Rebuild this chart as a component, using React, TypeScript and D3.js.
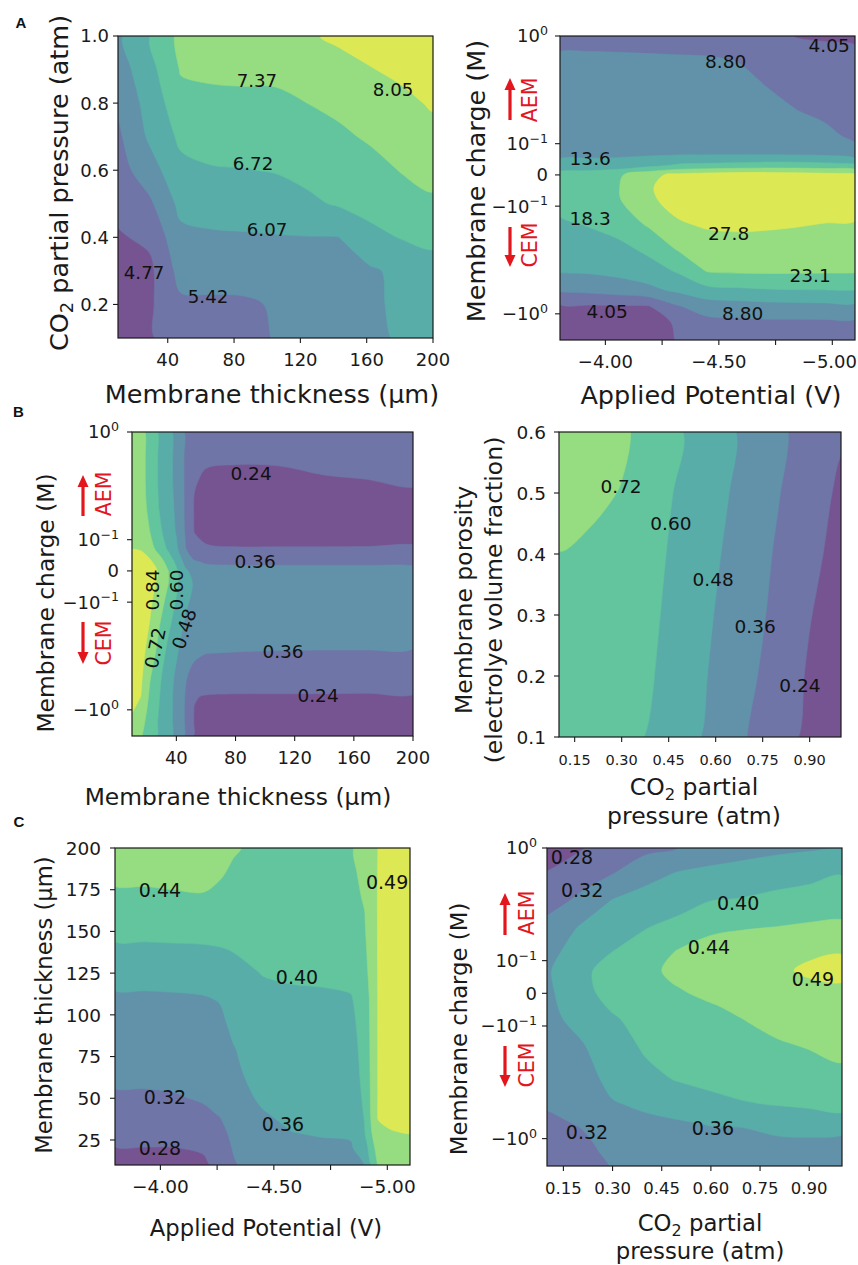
import React from 'react';
import * as d3 from 'd3';

// ===================== DATA =====================
// ---- Panel A (left): CO2 partial pressure vs membrane thickness ----
const aThickness = [10, 29, 48, 67, 86, 105, 124, 143, 162, 181, 200];
const aPressure = [1.0, 0.9, 0.8, 0.7, 0.6, 0.5, 0.4, 0.3, 0.2, 0.1];
// one row per pressure (top→bottom), one value per thickness
const aLeftRows = [
  [5.95, 6.70, 7.55, 7.65, 7.70, 7.80, 7.98, 8.15, 8.30, 8.45, 8.60],
  [5.75, 6.50, 7.42, 7.50, 7.52, 7.50, 7.65, 7.85, 8.02, 8.18, 8.35],
  [5.55, 6.30, 7.15, 7.20, 7.22, 7.25, 7.37, 7.52, 7.70, 7.90, 8.12],
  [5.30, 6.17, 6.85, 6.95, 6.98, 7.00, 7.10, 7.25, 7.45, 7.62, 7.85],
  [5.15, 5.78, 6.55, 6.68, 6.70, 6.75, 6.88, 6.98, 7.15, 7.40, 7.60],
  [4.95, 5.30, 6.25, 6.35, 6.40, 6.45, 6.60, 6.78, 6.92, 7.10, 7.25],
  [4.70, 4.90, 5.90, 5.98, 6.00, 6.03, 6.05, 6.06, 6.55, 6.75, 6.82],
  [4.55, 4.62, 5.65, 5.70, 5.72, 5.78, 5.85, 5.90, 5.98, 6.22, 6.55],
  [4.45, 4.68, 5.30, 5.30, 5.32, 5.48, 5.75, 5.85, 5.95, 6.20, 6.35],
  [4.40, 4.70, 5.15, 5.20, 5.25, 5.45, 5.72, 5.82, 5.92, 6.15, 6.30],
];
const aLeftLevels = [4.77, 5.42, 6.07, 6.72, 7.37, 8.05];
const aLeftLabels = [
  { x: 93.8, y: 0.868, t: '7.37' }, { x: 175.9, y: 0.841, t: '8.05' },
  { x: 91.4, y: 0.62, t: '6.72' }, { x: 99.9, y: 0.423, t: '6.07' },
  { x: 25.7, y: 0.294, t: '4.77' }, { x: 64.3, y: 0.225, t: '5.42' },
];

// ---- Panel A (right): membrane charge vs applied potential ----
const aPotential = [-3.8, -3.93, -4.06, -4.19, -4.32, -4.45, -4.58, -4.71, -4.84, -4.97, -5.1];
const aCharge = [1.0, 0.6, 0.35, 0.2, 0.12, 0.07, 0.03, 0, -0.04, -0.08, -0.15, -0.25, -0.4, -0.6, -0.85, -1.2, -1.75];
// one column per potential, values listed top→bottom (charge)
const aRightCols = [
  [7.5, 9.5, 10.5, 11.2, 12.0, 12.6, 15.0, 20.5, 21.0, 20.0, 17.5, 16.0, 14.0, 9.5, 3.5, 2.5, 2.0],
  [7.5, 9.5, 10.5, 11.2, 12.0, 12.6, 15.0, 21.0, 22.0, 21.0, 18.5, 16.5, 14.2, 10.0, 3.6, 2.5, 2.0],
  [7.5, 9.4, 10.4, 11.1, 11.9, 12.5, 15.5, 22.5, 23.0, 22.8, 20.5, 16.8, 15.0, 11.0, 3.7, 2.5, 2.0],
  [7.4, 9.3, 10.3, 11.0, 11.8, 12.5, 17.0, 26.5, 27.3, 27.0, 23.5, 19.5, 16.0, 12.5, 3.8, 2.3, 2.0],
  [7.3, 9.2, 10.2, 11.0, 11.8, 12.6, 19.0, 29.0, 30.0, 29.5, 27.2, 23.5, 18.8, 14.5, 8.5, 4.6, 4.3],
  [7.2, 9.1, 10.1, 10.9, 11.7, 12.6, 19.5, 30.0, 31.0, 30.5, 28.3, 25.5, 23.4, 17.0, 11.0, 7.5, 6.5],
  [6.8, 8.7, 10.0, 10.8, 11.6, 12.6, 20.0, 30.5, 31.5, 31.0, 28.5, 26.0, 23.8, 17.5, 11.5, 7.8, 6.8],
  [5.8, 7.5, 8.7, 10.0, 11.3, 12.5, 20.5, 30.5, 31.5, 31.0, 28.3, 26.0, 23.9, 18.0, 12.0, 8.0, 7.0],
  [3.9, 6.0, 7.5, 8.9, 10.5, 12.3, 20.5, 30.0, 31.0, 30.5, 28.0, 25.8, 23.8, 18.2, 12.2, 8.0, 7.0],
  [3.6, 5.5, 6.8, 8.0, 9.6, 12.0, 20.0, 29.5, 30.5, 30.0, 27.6, 25.6, 23.7, 18.3, 12.4, 8.0, 7.0],
  [3.4, 5.2, 6.3, 7.4, 8.0, 10.0, 19.5, 29.0, 30.0, 29.5, 27.5, 25.5, 23.6, 18.4, 12.5, 8.0, 7.0],
];
const aRightLevels = [4.05, 8.80, 13.6, 18.3, 23.1, 27.8];
const aRightLabels = [
  { x: -4.986, y: 0.826, t: '4.05' }, { x: -4.53, y: 0.587, t: '8.80' },
  { x: -3.933, y: 0.0547, t: '13.6' }, { x: -3.933, y: -0.129, t: '18.3' },
  { x: -4.543, y: -0.178, t: '27.8' }, { x: -4.902, y: -0.436, t: '23.1' },
  { x: -4.008, y: -0.938, t: '4.05' }, { x: -4.605, y: -0.98, t: '8.80' },
];

// ---- Panel B (left): membrane charge vs membrane thickness ----
const bThickness = [10, 16, 22, 28, 34, 40, 46, 52, 60, 80, 110, 140, 170, 200];
const bCharge = [1.0, 0.6, 0.35, 0.2, 0.12, 0.07, 0.03, 0, -0.04, -0.08, -0.15, -0.3, -0.5, -0.75, -1.0, -1.3, -1.75];
const bLeftCols = [
  [0.80, 0.80, 0.80, 0.81, 0.82, 0.84, 0.92, 0.95, 0.95, 0.94, 0.93, 0.92, 0.90, 0.88, 0.85, 0.80, 0.76],
  [0.76, 0.76, 0.76, 0.77, 0.79, 0.83, 0.90, 0.93, 0.93, 0.92, 0.90, 0.88, 0.86, 0.84, 0.80, 0.76, 0.73],
  [0.68, 0.68, 0.68, 0.69, 0.72, 0.77, 0.86, 0.90, 0.89, 0.87, 0.84, 0.79, 0.73, 0.70, 0.68, 0.67, 0.66],
  [0.59, 0.59, 0.59, 0.60, 0.63, 0.68, 0.78, 0.83, 0.82, 0.79, 0.74, 0.68, 0.63, 0.61, 0.60, 0.59, 0.59],
  [0.52, 0.52, 0.52, 0.53, 0.55, 0.59, 0.68, 0.73, 0.73, 0.70, 0.64, 0.57, 0.53, 0.52, 0.52, 0.52, 0.52],
  [0.45, 0.45, 0.45, 0.46, 0.47, 0.50, 0.57, 0.62, 0.62, 0.60, 0.55, 0.49, 0.46, 0.45, 0.45, 0.45, 0.45],
  [0.35, 0.345, 0.345, 0.345, 0.35, 0.37, 0.44, 0.50, 0.52, 0.51, 0.47, 0.42, 0.37, 0.355, 0.35, 0.35, 0.35],
  [0.33, 0.27, 0.245, 0.235, 0.238, 0.27, 0.37, 0.44, 0.47, 0.46, 0.43, 0.38, 0.32, 0.245, 0.238, 0.235, 0.235],
  [0.31, 0.25, 0.23, 0.21, 0.215, 0.25, 0.345, 0.40, 0.42, 0.42, 0.41, 0.36, 0.30, 0.235, 0.22, 0.215, 0.21],
  [0.30, 0.248, 0.225, 0.20, 0.205, 0.245, 0.34, 0.39, 0.41, 0.41, 0.40, 0.358, 0.29, 0.232, 0.215, 0.21, 0.205],
  [0.30, 0.25, 0.225, 0.20, 0.205, 0.245, 0.34, 0.39, 0.41, 0.41, 0.40, 0.356, 0.29, 0.232, 0.215, 0.21, 0.205],
  [0.30, 0.265, 0.232, 0.20, 0.205, 0.245, 0.34, 0.39, 0.41, 0.41, 0.40, 0.355, 0.29, 0.232, 0.215, 0.21, 0.205],
  [0.30, 0.27, 0.238, 0.205, 0.21, 0.245, 0.34, 0.39, 0.41, 0.41, 0.40, 0.355, 0.29, 0.23, 0.215, 0.21, 0.205],
  [0.30, 0.28, 0.25, 0.21, 0.225, 0.245, 0.34, 0.385, 0.40, 0.40, 0.39, 0.355, 0.29, 0.235, 0.22, 0.215, 0.21],
];
const bLeftLevels = [0.24, 0.36, 0.48, 0.60, 0.72, 0.84];
const bLeftLabels = [
  { x: 90.5, y: 0.417, t: '0.24' }, { x: 93.2, y: 0.032, t: '0.36' },
  { x: 23.5, y: -0.061, t: '0.84', r: -90 }, { x: 39.7, y: -0.061, t: '0.60', r: -90 },
  { x: 45.2, y: -0.177, t: '0.48', r: -72 }, { x: 25.6, y: -0.266, t: '0.72', r: -78 },
  { x: 112.1, y: -0.284, t: '0.36' }, { x: 135.8, y: -0.726, t: '0.24' },
];

// ---- Panel B (right): membrane porosity vs CO2 partial pressure ----
const bPressure = [0.1, 0.2, 0.3, 0.4, 0.5, 0.6, 0.7, 0.8, 0.9, 1.0];
const bPorosity = [0.6, 0.5, 0.4, 0.3, 0.2, 0.1];
const bRightRows = [
  [0.78, 0.765, 0.74, 0.67, 0.597, 0.527, 0.455, 0.383, 0.31, 0.252],
  [0.76, 0.745, 0.715, 0.635, 0.58, 0.51, 0.44, 0.365, 0.29, 0.22],
  [0.718, 0.70, 0.67, 0.625, 0.565, 0.492, 0.42, 0.345, 0.27, 0.20],
  [0.69, 0.675, 0.65, 0.615, 0.55, 0.475, 0.405, 0.33, 0.245, 0.18],
  [0.675, 0.66, 0.635, 0.603, 0.535, 0.46, 0.385, 0.31, 0.225, 0.16],
  [0.665, 0.65, 0.625, 0.59, 0.52, 0.445, 0.36, 0.295, 0.21, 0.15],
];
const bRightLevels = [0.24, 0.36, 0.48, 0.60, 0.72, 0.84];
const bRightLabels = [
  { x: 0.298, y: 0.511, t: '0.72' }, { x: 0.457, y: 0.451, t: '0.60' },
  { x: 0.592, y: 0.359, t: '0.48' }, { x: 0.726, y: 0.282, t: '0.36' },
  { x: 0.869, y: 0.185, t: '0.24' },
];

// ---- Panel C (left): membrane thickness vs applied potential ----
const cPotential = [-3.8, -3.93, -4.06, -4.19, -4.26, -4.32, -4.45, -4.58, -4.71, -4.84, -4.9, -4.96, -5.02, -5.1];
const cThickness = [200, 185, 170, 155, 140, 125, 110, 95, 80, 65, 50, 40, 30, 20, 10];
const cLeftCols = [
  [0.455, 0.447, 0.434, 0.415, 0.395, 0.372, 0.355, 0.345, 0.337, 0.328, 0.315, 0.305, 0.292, 0.279, 0.27],
  [0.455, 0.447, 0.434, 0.415, 0.395, 0.372, 0.355, 0.345, 0.337, 0.328, 0.315, 0.305, 0.292, 0.279, 0.27],
  [0.457, 0.448, 0.436, 0.416, 0.396, 0.373, 0.356, 0.346, 0.338, 0.33, 0.317, 0.306, 0.292, 0.279, 0.27],
  [0.46, 0.45, 0.437, 0.417, 0.397, 0.375, 0.358, 0.348, 0.34, 0.333, 0.323, 0.314, 0.302, 0.283, 0.275],
  [0.452, 0.443, 0.433, 0.418, 0.399, 0.379, 0.362, 0.352, 0.345, 0.339, 0.331, 0.321, 0.31, 0.296, 0.288],
  [0.443, 0.436, 0.428, 0.418, 0.402, 0.39, 0.378, 0.367, 0.358, 0.352, 0.346, 0.338, 0.328, 0.322, 0.315],
  [0.432, 0.428, 0.423, 0.417, 0.41, 0.401, 0.392, 0.385, 0.38, 0.375, 0.365, 0.357, 0.35, 0.345, 0.342],
  [0.43, 0.427, 0.423, 0.418, 0.412, 0.404, 0.395, 0.39, 0.386, 0.382, 0.375, 0.368, 0.36, 0.355, 0.352],
  [0.432, 0.429, 0.425, 0.42, 0.414, 0.405, 0.396, 0.39, 0.386, 0.382, 0.376, 0.369, 0.362, 0.356, 0.353],
  [0.438, 0.436, 0.433, 0.428, 0.421, 0.41, 0.398, 0.393, 0.389, 0.386, 0.381, 0.375, 0.365, 0.356, 0.352],
  [0.448, 0.445, 0.442, 0.438, 0.432, 0.425, 0.415, 0.412, 0.41, 0.408, 0.405, 0.402, 0.398, 0.38, 0.36],
  [0.486, 0.487, 0.488, 0.488, 0.488, 0.488, 0.488, 0.488, 0.488, 0.488, 0.488, 0.488, 0.478, 0.46, 0.445],
  [0.495, 0.495, 0.495, 0.495, 0.495, 0.495, 0.495, 0.495, 0.495, 0.495, 0.495, 0.495, 0.484, 0.47, 0.46],
  [0.497, 0.497, 0.497, 0.497, 0.497, 0.497, 0.497, 0.497, 0.497, 0.497, 0.497, 0.497, 0.487, 0.472, 0.462],
];
const cLeftLevels = [0.28, 0.32, 0.36, 0.40, 0.44, 0.485];
const cLeftLabels = [
  { x: -3.998, y: 174.8, t: '0.44' }, { x: -4.999, y: 179.6, t: '0.49' },
  { x: -4.602, y: 122.7, t: '0.40' }, { x: -4.02, y: 50.7, t: '0.32' },
  { x: -4.54, y: 34.5, t: '0.36' }, { x: -3.998, y: 20.2, t: '0.28' },
];

// ---- Panel C (right): membrane charge vs CO2 partial pressure ----
const cPressure = [0.1, 0.2, 0.3, 0.4, 0.5, 0.6, 0.7, 0.8, 0.9, 1.0];
const cCharge = [1.0, 0.6, 0.35, 0.2, 0.12, 0.07, 0.03, 0, -0.04, -0.08, -0.15, -0.3, -0.5, -0.75, -1.0, -1.3, -1.75];
const cRightCols = [
  [0.26, 0.282, 0.305, 0.33, 0.345, 0.355, 0.354, 0.352, 0.35, 0.348, 0.343, 0.335, 0.324, 0.31, 0.30, 0.295, 0.29],
  [0.276, 0.305, 0.325, 0.362, 0.38, 0.39, 0.388, 0.385, 0.38, 0.372, 0.355, 0.343, 0.334, 0.322, 0.312, 0.306, 0.30],
  [0.30, 0.318, 0.36, 0.383, 0.40, 0.415, 0.418, 0.415, 0.405, 0.395, 0.383, 0.37, 0.357, 0.345, 0.337, 0.33, 0.322],
  [0.31, 0.345, 0.375, 0.398, 0.415, 0.428, 0.43, 0.428, 0.422, 0.415, 0.405, 0.39, 0.365, 0.352, 0.347, 0.343, 0.34],
  [0.32, 0.362, 0.385, 0.41, 0.443, 0.452, 0.442, 0.436, 0.43, 0.425, 0.415, 0.402, 0.375, 0.355, 0.348, 0.345, 0.343],
  [0.335, 0.37, 0.398, 0.432, 0.455, 0.465, 0.46, 0.448, 0.437, 0.43, 0.422, 0.41, 0.388, 0.361, 0.352, 0.35, 0.348],
  [0.345, 0.375, 0.402, 0.437, 0.46, 0.472, 0.47, 0.46, 0.448, 0.44, 0.428, 0.415, 0.397, 0.362, 0.353, 0.35, 0.348],
  [0.35, 0.385, 0.408, 0.44, 0.465, 0.477, 0.476, 0.47, 0.459, 0.45, 0.436, 0.42, 0.401, 0.372, 0.357, 0.352, 0.35],
  [0.355, 0.39, 0.413, 0.445, 0.478, 0.492, 0.48, 0.474, 0.466, 0.458, 0.442, 0.425, 0.405, 0.378, 0.358, 0.353, 0.35],
  [0.357, 0.398, 0.42, 0.447, 0.483, 0.497, 0.484, 0.478, 0.47, 0.463, 0.448, 0.432, 0.41, 0.385, 0.352, 0.354, 0.35],
];
const cRightLevels = [0.28, 0.32, 0.36, 0.40, 0.44, 0.485];
const cRightLabels = [
  { x: 0.176, y: 0.828, t: '0.28' }, { x: 0.207, y: 0.422, t: '0.32' },
  { x: 0.683, y: 0.323, t: '0.40' }, { x: 0.594, y: 0.131, t: '0.44' },
  { x: 0.911, y: 0.043, t: '0.49' }, { x: 0.222, y: -0.879, t: '0.32' },
  { x: 0.606, y: -0.811, t: '0.36' },
];

// ---- Ticks ----
const thicknessTicks = [40, 80, 120, 160, 200];
const thicknessTicksC = [25, 50, 75, 100, 125, 150, 175, 200];
const pressureTicksA = [0.2, 0.4, 0.6, 0.8, 1.0];
const pressureTickLabelsA = ['0.2', '0.4', '0.6', '0.8', '1.0'];
const potentialTicks = [-4.0, -4.25, -4.5, -4.75, -5.0];
const potentialTickLabels = ['−4.00', '', '−4.50', '', '−5.00'];
const chargeTicks = [1, 0.1, 0, -0.1, -1];
const chargeTickLabels = ['10^0', '10^−1', '0', '−10^−1', '−10^0'];
const co2Ticks = [0.15, 0.30, 0.45, 0.60, 0.75, 0.90];
const co2TickLabels = ['0.15', '0.30', '0.45', '0.60', '0.75', '0.90'];
const porosityTicks = [0.1, 0.2, 0.3, 0.4, 0.5, 0.6];
const porosityTickLabels = ['0.1', '0.2', '0.3', '0.4', '0.5', '0.6'];

// ===================== RENDERING =====================
const FONT = '"DejaVu Sans", "Noto Sans", sans-serif';
const RED = '#e3161d';
const SYM_L = 0.29;
const symT = (v: number) => {
  const a = Math.abs(v);
  if (a <= 0.1) return (v / 0.1) * SYM_L;
  return Math.sign(v) * (SYM_L + Math.log10(a / 0.1));
};

const BAND_COLORS = d3.range(7).map((k) => {
  const c = d3.rgb(d3.interpolateViridis((k + 0.5) / 7));
  const a = 0.75;
  return d3.rgb(c.r * a + 255 * (1 - a), c.g * a + 255 * (1 - a), c.b * a + 255 * (1 - a)).formatHex();
});

const ringLine = d3.line().curve(d3.curveCatmullRomClosed.alpha(0.5));

function buildContours(p: any, xScale: any, yScale: any) {
  const n = p.xs.length, m = p.ys.length;
  const values = new Array(n * m);
  for (let j = 0; j < m; j++)
    for (let i = 0; i < n; i++) values[j * n + i] = p.byColumn ? p.z[i][j] : p.z[j][i];
  const gx = d3.scaleLinear().domain(p.xs.map((_: any, i: number) => i + 0.5)).range(p.xs.map((v: number) => xScale(v)));
  const gy = d3.scaleLinear().domain(p.ys.map((_: any, j: number) => j + 0.5)).range(p.ys.map((v: number) => yScale(v)));
  const cs = d3.contours().size([n, m]).thresholds(p.levels)(values);
  return cs.map((c: any) =>
    c.coordinates
      .map((poly: any) =>
        poly
          .map((ring: any) => {
            const pts = ring.slice(0, ring.length - 1).map(([a, b]: number[]) => [gx(a), gy(b)]);
            return ringLine(pts) || '';
          })
          .join('')
      )
      .join('')
  );
}

function Rich({ segs, fs }: any) {
  const out: any[] = [];
  let shifted = false;
  segs.forEach((s: any, i: number) => {
    if (s.sub) {
      out.push(<tspan key={i} dy={fs * 0.2} fontSize={fs * 0.7}>{s.t}</tspan>);
      shifted = true;
    } else {
      out.push(<tspan key={i} dy={shifted ? -fs * 0.2 : 0}>{s.t}</tspan>);
      shifted = false;
    }
  });
  return <>{out}</>;
}

function TickText({ label, fs }: any) {
  const k = label.indexOf('^');
  if (k < 0) return <>{label}</>;
  return (
    <>
      <tspan>{label.slice(0, k)}</tspan>
      <tspan dy={-fs * 0.42} fontSize={fs * 0.7}>{label.slice(k + 1)}</tspan>
    </>
  );
}

function Arrow({ x, y1, y2 }: any) {
  const dir = Math.sign(y2 - y1);
  const head = 12;
  return (
    <g>
      <line x1={x} y1={y1} x2={x} y2={y2 - dir * head * 0.8} stroke={RED} strokeWidth={3.2} />
      <polygon points={`${x},${y2} ${x - 5.5},${y2 - dir * head} ${x + 5.5},${y2 - dir * head}`} fill={RED} />
    </g>
  );
}

function Panel({ p }: any) {
  const [l, t, r, b] = p.box;
  const xScale = d3.scaleLinear().domain(p.xDomain).range([l, r]);
  let yScale: any;
  if (p.ySym) {
    const lin = d3.scaleLinear().domain([symT(p.yDomain[0]), symT(p.yDomain[1])]).range([b, t]);
    yScale = (v: number) => lin(symT(v));
  } else {
    yScale = d3.scaleLinear().domain(p.yDomain).range([b, t]);
  }
  const paths = buildContours(p, xScale, yScale);
  const clipId = 'clip-' + p.id;
  return (
    <g>
      <clipPath id={clipId}>
        <rect x={l} y={t} width={r - l} height={b - t} />
      </clipPath>
      <g clipPath={`url(#${clipId})`}>
        <rect x={l} y={t} width={r - l} height={b - t} fill={BAND_COLORS[0]} />
        {paths.map((d: string, k: number) => (
          <path key={k} d={d} fill={BAND_COLORS[k + 1]} fillRule="evenodd" stroke={BAND_COLORS[k + 1]} strokeWidth={0.6} strokeLinejoin="round" />
        ))}
      </g>
      {p.labels.map((lb: any, i: number) => (
        <text key={i} transform={`translate(${xScale(lb.x)},${yScale(lb.y)}) rotate(${lb.r || 0})`} textAnchor="middle" dy="0.36em" fontSize={p.labelFs} fill="#111">
          {lb.t}
        </text>
      ))}
      <rect x={l} y={t} width={r - l} height={b - t} fill="none" stroke="#1a1a1a" strokeWidth={1.2} />
      {p.xTicks.map((v: number, i: number) => {
        const last = p.lastTickEnd && i === p.xTicks.length - 1;
        return (
          <g key={'xt' + i}>
            <line x1={xScale(v)} x2={xScale(v)} y1={b} y2={b + 5} stroke="#1a1a1a" strokeWidth={1.1} />
            <text x={last ? p.lastTickEnd : xScale(v)} y={b + 28} textAnchor={last ? 'end' : 'middle'} fontSize={p.xTickFs} fill="#1a1a1a">
              {p.xTickLabels[i]}
            </text>
          </g>
        );
      })}
      {p.yTicks.map((v: number, i: number) => (
        <g key={'yt' + i}>
          <line x1={l - 5} x2={l} y1={yScale(v)} y2={yScale(v)} stroke="#1a1a1a" strokeWidth={1.1} />
          <text x={l - p.yTickGap} y={yScale(v)} dy="0.36em" textAnchor="end" fontSize={p.yTickFs} fill="#1a1a1a">
            <TickText label={p.yTickLabels[i]} fs={p.yTickFs} />
          </text>
        </g>
      ))}
      {p.xTitle.lines.map((segs: any, i: number) => (
        <text key={'xl' + i} x={p.xTitle.x} y={p.xTitle.ys[i]} textAnchor="middle" fontSize={p.titleFs} fill="#1a1a1a">
          <Rich segs={segs} fs={p.titleFs} />
        </text>
      ))}
      {p.yTitle.lines.map((segs: any, i: number) => (
        <text key={'yl' + i} transform={`translate(${p.yTitle.xs[i]},${p.yTitle.y}) rotate(-90)`} textAnchor="middle" fontSize={p.titleFs} fill="#1a1a1a">
          <Rich segs={segs} fs={p.titleFs} />
        </text>
      ))}
      {p.memb && (
        <g>
          <Arrow x={p.memb.ax} y1={p.memb.up[1]} y2={p.memb.up[0]} />
          <text transform={`translate(${p.memb.tx},${p.memb.aemY}) rotate(-90)`} textAnchor="middle" dy="0.36em" fontSize={20.5} fill={RED}>AEM</text>
          <Arrow x={p.memb.ax} y1={p.memb.down[0]} y2={p.memb.down[1]} />
          <text transform={`translate(${p.memb.tx},${p.memb.cemY}) rotate(-90)`} textAnchor="middle" dy="0.36em" fontSize={20.5} fill={RED}>CEM</text>
        </g>
      )}
    </g>
  );
}

const co2Title = [[{ t: 'CO' }, { t: '2', sub: true }, { t: ' partial' }], [{ t: 'pressure (atm)' }]];

const panels = [
  {
    id: 'aL', box: [118, 36, 433, 338], xDomain: [10, 200], yDomain: [0.1, 1.0],
    xs: aThickness, ys: aPressure, z: aLeftRows, byColumn: false, levels: aLeftLevels, labels: aLeftLabels,
    labelFs: 18.2, xTickFs: 18, yTickFs: 18, yTickGap: 9, titleFs: 25.5,
    xTicks: thicknessTicks, xTickLabels: thicknessTicks.map(String),
    yTicks: pressureTicksA, yTickLabels: pressureTickLabelsA,
    xTitle: { lines: [[{ t: 'Membrane thickness (μm)' }]], x: 272, ys: [403] },
    yTitle: { lines: [[{ t: 'CO' }, { t: '2', sub: true }, { t: ' partial pressure (atm)' }]], xs: [68], y: 183 },
  },
  {
    id: 'aR', box: [560, 36, 855, 340], xDomain: [-3.8, -5.1], yDomain: [-1.75, 1], ySym: true,
    xs: aPotential, ys: aCharge, z: aRightCols, byColumn: true, levels: aRightLevels, labels: aRightLabels,
    labelFs: 18.5, xTickFs: 18, yTickFs: 18, yTickGap: 12, titleFs: 25.5, lastTickEnd: 857,
    xTicks: potentialTicks, xTickLabels: potentialTickLabels,
    yTicks: chargeTicks, yTickLabels: chargeTickLabels,
    xTitle: { lines: [[{ t: 'Applied Potential (V)' }]], x: 711, ys: [404] },
    yTitle: { lines: [[{ t: 'Membrane charge (M)' }]], xs: [485], y: 181 },
    memb: { ax: 510, up: [78, 120], down: [227, 267], tx: 530, aemY: 100, cemY: 245 },
  },
  {
    id: 'bL', box: [132, 432, 413, 736], xDomain: [10, 200], yDomain: [-1.75, 1], ySym: true,
    xs: bThickness, ys: bCharge, z: bLeftCols, byColumn: true, levels: bLeftLevels, labels: bLeftLabels,
    labelFs: 18.5, xTickFs: 18, yTickFs: 18, yTickGap: 13, titleFs: 23.4,
    xTicks: thicknessTicks, xTickLabels: thicknessTicks.map(String),
    yTicks: chargeTicks, yTickLabels: chargeTickLabels,
    xTitle: { lines: [[{ t: 'Membrane thickness (μm)' }]], x: 238, ys: [805] },
    yTitle: { lines: [[{ t: 'Membrane charge (M)' }]], xs: [54], y: 603 },
    memb: { ax: 83, up: [475, 516], down: [622, 664], tx: 104, aemY: 494, cemY: 643 },
  },
  {
    id: 'bR', box: [559, 432, 841, 737], xDomain: [0.1, 1.0], yDomain: [0.1, 0.6],
    xs: bPressure, ys: bPorosity, z: bRightRows, byColumn: false, levels: bRightLevels, labels: bRightLabels,
    labelFs: 18.5, xTickFs: 14.5, yTickFs: 18.5, yTickGap: 13, titleFs: 23.5,
    xTicks: co2Ticks, xTickLabels: co2TickLabels,
    yTicks: porosityTicks, yTickLabels: porosityTickLabels,
    xTitle: { lines: co2Title, x: 694, ys: [795, 824] },
    yTitle: { lines: [[{ t: 'Membrane porosity' }], [{ t: '(electrolye volume fraction)' }]], xs: [472, 502], y: 600 },
  },
  {
    id: 'cL', box: [115, 848, 410, 1165], xDomain: [-3.8, -5.1], yDomain: [10, 200],
    xs: cPotential, ys: cThickness, z: cLeftCols, byColumn: true, levels: cLeftLevels, labels: cLeftLabels,
    labelFs: 19, xTickFs: 18.5, yTickFs: 18.5, yTickGap: 14, titleFs: 22.7,
    xTicks: potentialTicks, xTickLabels: potentialTickLabels,
    yTicks: thicknessTicksC, yTickLabels: thicknessTicksC.map(String),
    xTitle: { lines: [[{ t: 'Applied Potential (V)' }]], x: 266, ys: [1236] },
    yTitle: { lines: [[{ t: 'Membrane thickness (μm)' }]], xs: [52], y: 1005 },
  },
  {
    id: 'cR', box: [547, 848, 842, 1166], xDomain: [0.1, 1.0], yDomain: [-1.75, 1], ySym: true,
    xs: cPressure, ys: cCharge, z: cRightCols, byColumn: true, levels: cRightLevels, labels: cRightLabels,
    labelFs: 19, xTickFs: 16.5, yTickFs: 18, yTickGap: 10, titleFs: 22.8,
    xTicks: co2Ticks, xTickLabels: co2TickLabels,
    yTicks: chargeTicks, yTickLabels: chargeTickLabels,
    xTitle: { lines: co2Title, x: 700, ys: [1231, 1259] },
    yTitle: { lines: [[{ t: 'Membrane charge (M)' }]], xs: [467], y: 1029 },
    memb: { ax: 505, up: [893, 935], down: [1046, 1087], tx: 527, aemY: 913, cemY: 1065 },
  },
];

const panelLetters = [
  { t: 'A', x: 21, y: 28 },
  { t: 'B', x: 18.5, y: 417 },
  { t: 'C', x: 19, y: 827 },
];

export default function App() {
  return (
    <svg
      width={858}
      height={1265}
      viewBox="0 0 858 1265"
      style={{ position: 'absolute', left: 0, top: 0, background: '#fff' }}
      fontFamily={FONT}
    >
      <rect x={0} y={0} width={858} height={1265} fill="#fff" />
      {panels.map((p) => (
        <Panel key={p.id} p={p} />
      ))}
      {panelLetters.map((l) => (
        <text key={l.t} x={l.x} y={l.y} textAnchor="middle" fontSize={15} fontWeight="bold" fontFamily='"Liberation Sans", Arial, sans-serif' fill="#111">
          {l.t}
        </text>
      ))}
    </svg>
  );
}
